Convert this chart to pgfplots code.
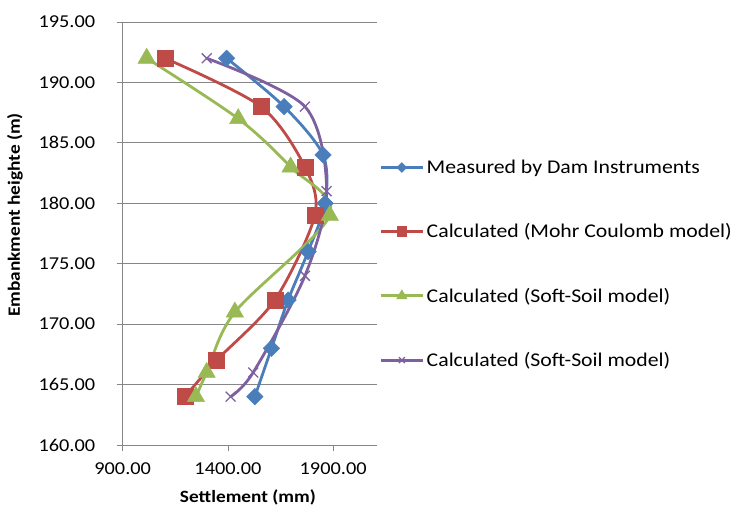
\documentclass[border=0pt]{standalone}
\usepackage{pgfplots}
\pgfplotsset{compat=1.18}
\usepackage{fontspec}
\setmainfont{Carlito}[FakeStretch=1.12]
\definecolor{cblue}{HTML}{4A7EBB}
\definecolor{cred}{HTML}{BE4B48}
\definecolor{cgreen}{HTML}{98B954}
\definecolor{cpurple}{HTML}{7D60A0}
\definecolor{cgrid}{HTML}{868686}
\begin{document}
\begin{tikzpicture}
\path[use as bounding box] (0,0) rectangle (734bp,508bp);
\begin{axis}[
  at={(122.7bp,63bp)}, anchor=south west,
  scale only axis, width=254bp, height=423bp,
  xmin=900, xmax=2107, ymin=160, ymax=195,
  xtick={900,1400,1900}, ytick={160,165,...,195},
  axis x line*=bottom, axis y line*=left,
  axis line style={draw=cgrid, line width=0.8bp},
  tick style={draw=cgrid, line width=0.8bp},
  tick align=outside, major tick length=6bp,
  ymajorgrids, major grid style={draw=cgrid, line width=0.8bp},
  /pgf/number format/.cd, fixed, fixed zerofill, precision=2, 1000 sep={}, assume math mode=true,
  /pgfplots/.cd,
  ticklabel style={font=\fontsize{18.2}{21}\selectfont},
  yticklabel style={xshift=-18bp},
  xticklabel style={yshift=-8bp},
  xlabel={\textbf{Settlement (mm)}},
  ylabel={\textbf{Embankment heighte (m)}},
  label style={font=\fontsize{17.3}{20}\selectfont},
  xlabel style={at={(axis description cs:0.493,-0.125)}, anchor=center},
  ylabel style={at={(axis description cs:-0.424,0.544)}, anchor=center},
  legend cell align=left,
  legend style={draw=none, fill=none, at={(axis description cs:1.01,0.68)}, anchor=north west,
    font=\fontsize{19.5}{22}\selectfont, row sep=43.6bp, inner sep=0pt,
    nodes={inner sep=2.5bp}},
  legend image code/.code={\draw[mark repeat=2,mark phase=2,#1,every mark/.append style={scale=0.6}] plot coordinates {(0bp,0bp) (21bp,0bp) (42bp,0bp)};},
  every axis plot/.append style={line width=2.8bp, smooth, tension=0.5},
]
\addplot[color=cblue, mark=square*, mark size=5.8bp, mark options={rotate=45, solid, line width=0.5bp}] coordinates {
 (1528,164) (1607,168) (1686,172) (1781,176) (1862,180) (1852,184) (1667,188) (1394,192)};
\addlegendentry{Measured by Dam Instruments}
\addplot[color=cred, mark=square*, mark size=8bp, mark options={solid, line width=0.5bp}] coordinates {
 (1196,164) (1346,167) (1623,172) (1813,179) (1766,183) (1557,188) (1101,192)};
\addlegendentry{Calculated (Mohr Coulomb model)}
\addplot[color=cgreen, mark=triangle*, mark size=10bp, mark options={solid, line width=0.5bp}] coordinates {
 (1248,164) (1299,166) (1433,171) (1884,179) (1698,183) (1449,187) (1014,192)};
\addlegendentry{Calculated (Soft-Soil model)}
\addplot[color=cpurple, mark=x, mark size=7bp, mark options={solid, line width=1.3bp}] coordinates {
 (1413,164) (1520,166) (1766,174) (1869,181) (1766,188) (1299,192)};
\addlegendentry{Calculated (Soft-Soil model)}
\end{axis}
\end{tikzpicture}
\end{document}
